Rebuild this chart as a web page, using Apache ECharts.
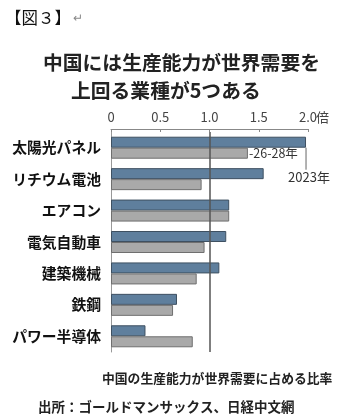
<!DOCTYPE html>
<html>
<head>
<meta charset="utf-8">
<script src="https://cdn.jsdelivr.net/npm/echarts@6/dist/echarts.min.js"></script>
<style>
  html, body { margin: 0; padding: 0; background: #fff; }
  #chart { width: 351px; height: 418px; }
</style>
</head>
<body>
<div id="chart"></div>
<script>
const categories = ['太陽光パネル', 'リチウム電池', 'エアコン', '電気自動車', '建築機械', '鉄鋼', 'パワー半導体'];
const values2023 = [1.98, 1.55, 1.20, 1.17, 1.10, 0.67, 0.35];
const values2628 = [1.39, 0.92, 1.20, 0.95, 0.87, 0.63, 0.83];
const tickLabels = ['0', '0.5', '1.0', '1.5', '2.0'];

const font = '"Noto Sans CJK JP", "Noto Sans", sans-serif';
const chart = echarts.init(document.getElementById('chart'));

const option = {
  backgroundColor: '#fff',
  animation: false,
  title: [
    {
      text: '【図３】{r|↵}',
      left: 0, top: 4,
      textStyle: {
        fontFamily: font, fontSize: 16.5, fontWeight: 'normal', color: '#111',
        rich: { r: { fontFamily: font, fontSize: 12, color: '#888', padding: [0, 0, 0, 2] } }
      }
    },
    {
      text: '中国には生産能力が世界需要を',
      left: 38, top: 48,
      textStyle: { fontFamily: font, fontSize: 19.8, fontWeight: 'bold', color: '#222' }
    },
    {
      text: '上回る業種が5つある',
      left: 66, top: 76,
      textStyle: { fontFamily: font, fontSize: 19.8, fontWeight: 'bold', color: '#222' }
    },
    {
      text: '中国の生産能力が世界需要に占める比率',
      left: 97, top: 367,
      textStyle: { fontFamily: font, fontSize: 12.8, fontWeight: 'bold', color: '#222' }
    },
    {
      text: '出所：ゴールドマンサックス、日経中文網',
      left: 33, top: 395,
      textStyle: { fontFamily: font, fontSize: 13.5, fontWeight: 'bold', color: '#222' }
    }
  ],
  grid: { left: 111, right: 43, top: 132, height: 220 },
  xAxis: {
    type: 'value',
    position: 'top',
    offset: 3,
    min: 0, max: 2, interval: 0.5,
    name: '倍',
    nameLocation: 'end',
    nameGap: 8,
    nameMoveOverlap: false,
    nameTextStyle: { fontFamily: font, fontSize: 13, color: '#444', verticalAlign: 'bottom', padding: [0, 0, 5, 0] },
    axisLine: { show: true, lineStyle: { color: '#888', width: 1 } },
    axisTick: { show: true, inside: true, length: 3, lineStyle: { color: '#888' } },
    axisLabel: {
      fontFamily: font, fontSize: 13, color: '#444', margin: 5,
      formatter: (v) => tickLabels[Math.round(v / 0.5)]
    },
    splitLine: { show: false }
  },
  yAxis: {
    type: 'category',
    inverse: true,
    data: categories,
    axisLine: { show: true, lineStyle: { color: '#999', width: 1 } },
    axisTick: { show: false },
    axisLabel: { fontFamily: font, fontSize: 14.8, fontWeight: 'bold', color: '#111', margin: 10 }
  },
  series: [
    {
      name: '2023年',
      type: 'bar',
      data: values2023.map((v, i) => i === 0 ? {
        value: v,
        label: {
          show: true, position: ['100%', 40], align: 'center', verticalAlign: 'middle',
          offset: [3, 0], formatter: '2023年', fontFamily: font, fontSize: 13, color: '#333'
        }
      } : v),
      barWidth: 11,
      barGap: '0%',
      itemStyle: { color: '#5f7f9d', borderColor: '#3e5061', borderWidth: 1 },
      markLine: {
        silent: true, symbol: 'none', label: { show: false },
        lineStyle: { color: '#555', width: 1.5, type: 'solid' },
        data: [{ xAxis: 1 }]
      }
    },
    {
      name: '26-28年',
      type: 'bar',
      data: values2628.map((v, i) => i === 0 ? {
        value: v,
        label: {
          show: true, position: 'right', distance: 1,
          formatter: '-26-28年', fontFamily: font, fontSize: 12.5, color: '#333'
        }
      } : v),
      barWidth: 11,
      itemStyle: { color: '#a9a9a9', borderColor: '#6f6f6f', borderWidth: 1 }
    }
  ]
};

chart.setOption(option);

// leader line from the first 2023 bar down to its label
const p = chart.convertToPixel({ gridIndex: 0 }, [values2023[0], 0]);
chart.setOption({
  graphic: [{
    type: 'line',
    shape: { x1: p[0], y1: p[1], x2: p[0], y2: p[1] + 22 },
    style: { stroke: '#666', lineWidth: 1 }
  }]
});
</script>
</body>
</html>
